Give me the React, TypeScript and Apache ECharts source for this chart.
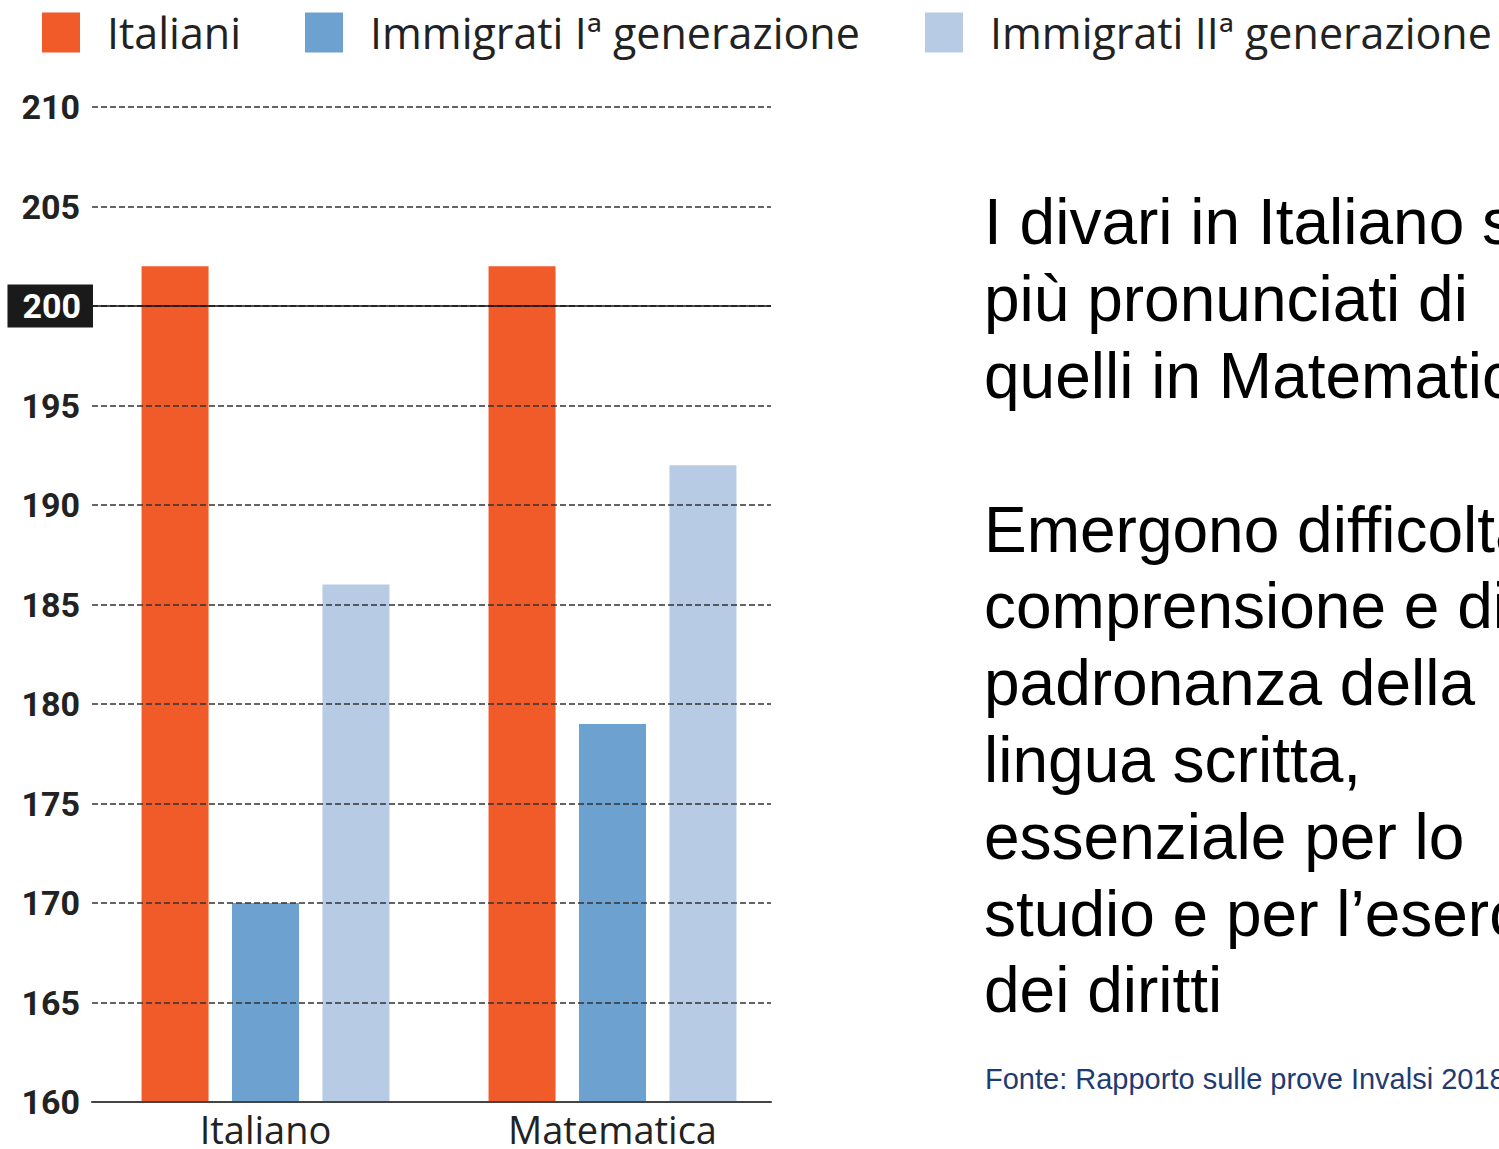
import React, { useEffect, useRef } from "react";
import * as echarts from "echarts";

const categories = ["Italiano", "Matematica"];
const seriesNames = ["Italiani", "Immigrati Iª generazione", "Immigrati IIª generazione"];
const italiani = [202, 202];
const immigratiI = [170, 179];
const immigratiII = [186, 192];
const colors = ["#F15A29", "#6DA1D0", "#B7CBE4"];
const referenceValue = 200;
const textLines = [
  "I divari in Italiano sono",
  "più pronunciati di",
  "quelli in Matematica",
  "",
  "Emergono difficoltà di",
  "comprensione e di",
  "padronanza della",
  "lingua scritta,",
  "essenziale per lo",
  "studio e per l’esercizio",
  "dei diritti",
];
const sourceText = "Fonte: Rapporto sulle prove Invalsi 2018";

export default function App() {
  const ref = useRef<HTMLDivElement>(null);
  useEffect(() => {
    if (!ref.current) return;
    const chart = echarts.init(ref.current, null, { renderer: "svg" });
    const values = [italiani, immigratiI, immigratiII];
    const legendLefts = [42, 305, 925];
    chart.setOption({
      animation: false,
      backgroundColor: "#ffffff",
      legend: seriesNames.map((n, i) => ({
        data: [n],
        left: legendLefts[i],
        top: 11,
        padding: 0,
        itemWidth: 38,
        itemHeight: 40,
        icon: "rect",
        selectedMode: false,
        textStyle: {
          fontFamily: "Open Sans",
          fontSize: 43,
          color: "#222",
          padding: [0, 0, 0, 22],
        },
      })),
      grid: [
        { left: 92, right: 713, top: 107, bottom: 47, containLabel: false, outerBoundsMode: "none" },
        { left: 92, right: 728, top: 107, bottom: 47, containLabel: false, outerBoundsMode: "none" },
      ],
      xAxis: [
        {
          type: "category",
          gridIndex: 0,
          data: categories,
          axisLine: { show: false },
          axisTick: { show: false },
          axisLabel: {
            fontFamily: "Open Sans",
            fontSize: 38,
            color: "#222",
            margin: 8,
          },
        },
        {
          type: "category",
          gridIndex: 1,
          data: categories,
          z: 6,
          axisLine: { show: true, lineStyle: { color: "#444", width: 2 } },
          axisTick: { show: false },
          axisLabel: { show: false },
        },
      ],
      yAxis: [
        {
          type: "value",
          gridIndex: 0,
          min: 160,
          max: 210,
          interval: 5,
          show: false,
          splitLine: { show: false },
        },
        {
          type: "value",
          gridIndex: 1,
          min: 160,
          max: 210,
          interval: 5,
          z: 5,
          axisLine: { show: false },
          axisTick: { show: false },
          splitLine: {
            show: true,
            lineStyle: { color: "#333", width: 1.5, type: [6, 3] },
          },
          axisLabel: {
            margin: 12,
            fontFamily: "Roboto",
            fontWeight: "bold",
            fontSize: 34,
            color: "#222",
            formatter: (v: number) => (v === referenceValue ? "" : String(v)),
          },
        },
      ],
      series: [
        ...seriesNames.map((n, i) => ({
          name: n,
          type: "bar",
          xAxisIndex: 0,
          yAxisIndex: 0,
          data: values[i],
          barWidth: 67,
          barGap: "35%",
          itemStyle: { color: colors[i] },
          z: 2,
        })),
        {
          name: "ref",
          type: "line",
          xAxisIndex: 1,
          yAxisIndex: 1,
          data: [],
          z: 10,
          markLine: {
            silent: true,
            symbol: "none",
            label: {
              show: true,
              position: "start",
              distance: -1,
              formatter: String(referenceValue),
              fontFamily: "Roboto",
              fontWeight: "bold",
              fontSize: 34,
              color: "#ffffff",
              backgroundColor: "#1a1a1a",
              padding: [5, 12, 4, 15],
            },
            lineStyle: { color: "#111", width: 1.5, type: "solid" },
            data: [{ yAxis: referenceValue }],
          },
        },
      ],
      graphic: [
        {
          type: "text",
          left: 984,
          top: 184,
          style: {
            text: textLines.join("\n"),
            fontFamily: "Liberation Sans",
            fontSize: 64,
            lineHeight: 76.8,
            fill: "#000",
          },
        },
        {
          type: "text",
          left: 985,
          top: 1064,
          style: {
            text: sourceText,
            fontFamily: "Liberation Sans",
            fontSize: 29,
            lineHeight: 30,
            fill: "#1F3B73",
          },
        },
      ],
    });
    return () => chart.dispose();
  }, []);
  return (
    <div
      ref={ref}
      style={{ position: "absolute", left: 0, top: 0, width: 1499, height: 1149 }}
    />
  );
}
